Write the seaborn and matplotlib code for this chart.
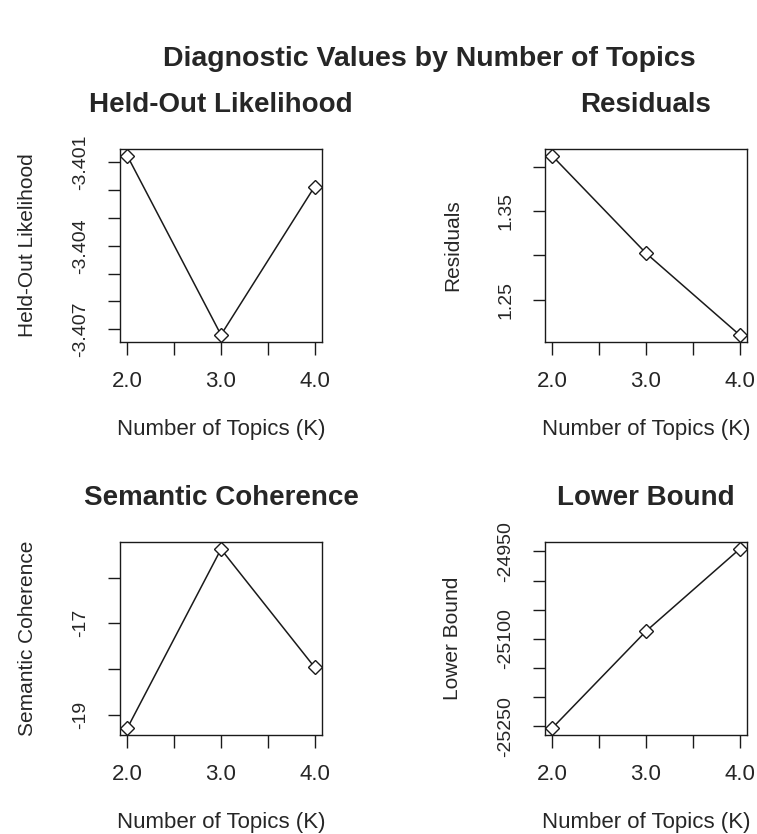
import numpy as np
import pandas as pd
import seaborn as sns
import matplotlib
matplotlib.use("Agg")
import matplotlib.pyplot as plt

# searchK diagnostics for K = 2, 3, 4
K = [2, 3, 4]
heldout = [-3.40078, -3.40720, -3.40188]
residuals = [1.4117, 1.3023, 1.2102]
semcoh = [-19.29, -15.375, -17.96]
lbound = [-25253, -25087, -24946]

x_ticks = [2.0, 2.5, 3.0, 3.5, 4.0]
x_labels = ["2.0", "", "3.0", "", "4.0"]

heldout_ticks = [-3.407, -3.406, -3.405, -3.404, -3.403, -3.402, -3.401]
heldout_labels = ["-3.407", "", "", "-3.404", "", "", "-3.401"]
resid_ticks = [1.25, 1.30, 1.35, 1.40]
resid_labels = ["1.25", "", "1.35", ""]
semcoh_ticks = [-19, -18, -17, -16]
semcoh_labels = ["-19", "", "-17", ""]
lbound_ticks = [-25250, -25200, -25150, -25100, -25050, -25000, -24950]
lbound_labels = ["-25250", "", "", "-25100", "", "", "-24950"]

panel_titles = ["Held-Out Likelihood", "Residuals", "Semantic Coherence", "Lower Bound"]
xlabel = "Number of Topics (K)"
main_title = "Diagnostic Values by Number of Topics"

sns.set_theme(style="ticks")
plt.rcParams["font.family"] = ["Liberation Sans", "DejaVu Sans"]
plt.rcParams["axes.linewidth"] = 1.0

W, H = 757, 834
fig = plt.figure(figsize=(W / 100, H / 100), dpi=100)

# frame rectangles in pixels: left, top, right, bottom
frames = [(120, 149, 322, 342), (545, 149, 747, 342),
          (120, 542, 322, 735), (545, 542, 747, 735)]
series = [heldout, residuals, semcoh, lbound]
yticks = [heldout_ticks, resid_ticks, semcoh_ticks, lbound_ticks]
ylabels = [heldout_labels, resid_labels, semcoh_labels, lbound_labels]

ink = "#1a1a1a"
for (l, t, r, b), vals, yt, yl, title in zip(frames, series, yticks, ylabels, panel_titles):
    ax = fig.add_axes([l / W, 1 - b / H, (r - l) / W, (b - t) / H])
    df = pd.DataFrame({"K": K, "value": vals})
    sns.lineplot(data=df, x="K", y="value", ax=ax, color=ink, lw=1.1,
                 marker="D", markersize=7, markerfacecolor="white",
                 markeredgecolor=ink, markeredgewidth=1.0)
    ax.margins(x=0.04, y=0.04)
    ax.set_xticks(x_ticks, x_labels)
    ax.set_yticks(yt, yl)
    for lab in ax.get_yticklabels():
        lab.set_rotation(90)
        lab.set_verticalalignment("center")
    ax.tick_params(axis="x", length=9, width=1.0, pad=12, labelsize=16, color=ink)
    ax.tick_params(axis="y", length=9, width=1.0, pad=13, labelsize=14, color=ink)
    for s in ax.spines.values():
        s.set_visible(True)
        s.set_color(ink)
    ax.set_xlabel(xlabel, fontsize=16)
    ax.set_ylabel(title, fontsize=15)
    ax.xaxis.set_label_coords(0.5, -0.40)
    ax.yaxis.set_label_coords(-0.41, 0.5)
    ax.set_title(title, fontsize=20, fontweight="bold", pad=26.6)

fig.text(429 / W, 1 - 66 / H, main_title, ha="center", va="baseline",
         fontsize=20.5, fontweight="bold")

fig.savefig("out.png", dpi=100, facecolor="white")
